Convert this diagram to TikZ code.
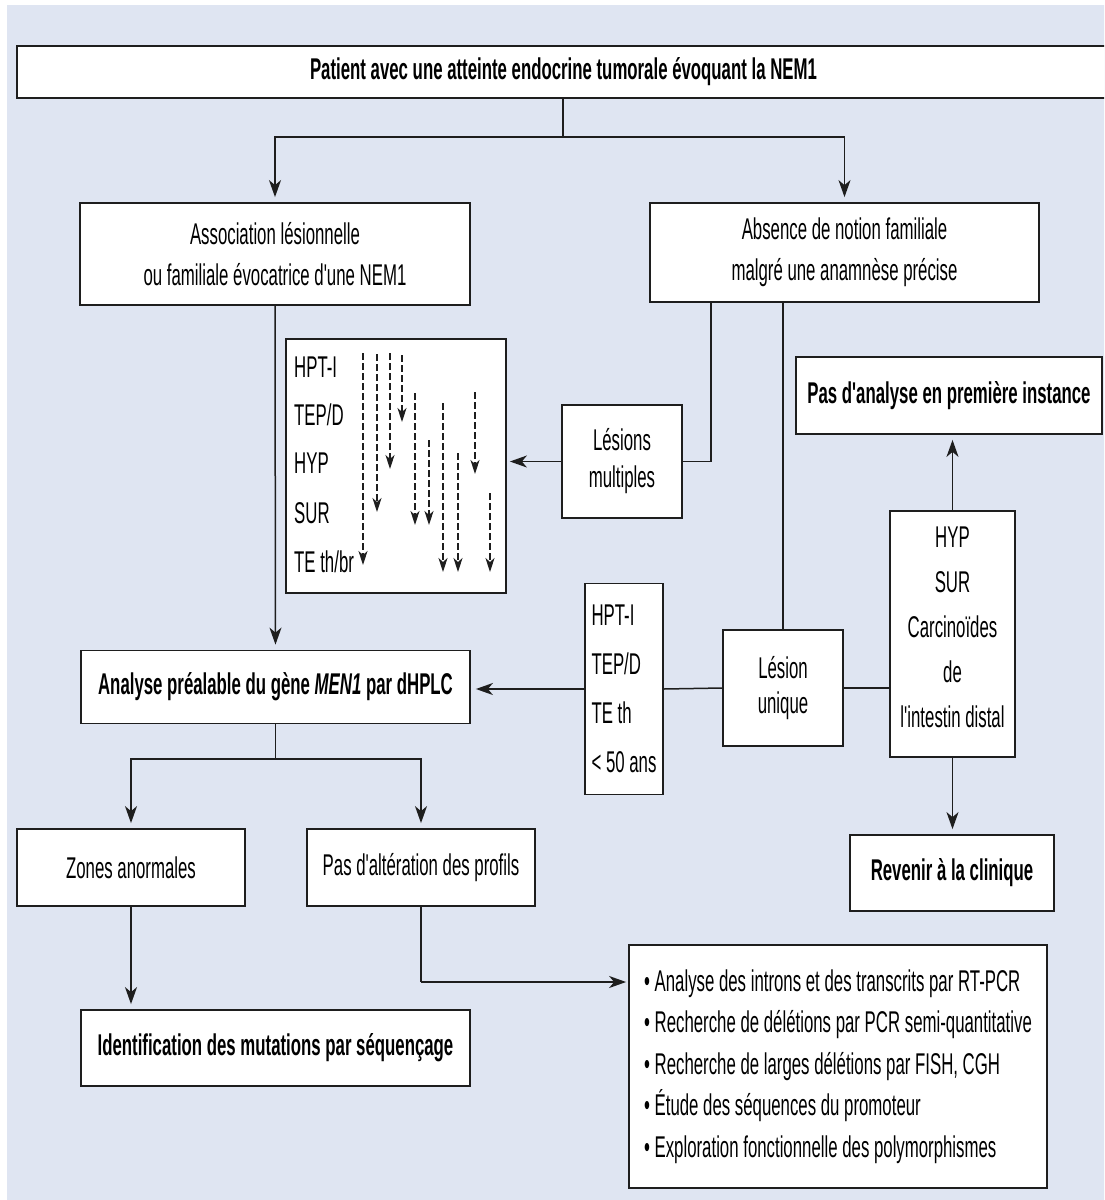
\documentclass[tikz,border=0pt]{standalone}
\usepackage{fontspec}
\setmainfont{Liberation Sans}[FakeStretch=0.56,Ligatures=TeXOff]
\usetikzlibrary{arrows.meta,calc}
\definecolor{bgc}{RGB}{223,229,242}
\definecolor{ln}{RGB}{30,30,30}
\newcommand\myfs[1]{\fontsize{30}{#1}\selectfont}
\begin{document}
\begin{tikzpicture}[x=1pt,y=-1pt,
 box/.style={draw=ln, fill=white, line width=1.8pt, inner sep=0pt, align=center, font=\myfs{41}},
 con/.style={draw=ln, line width=1.5pt},
 arr/.style={con, -{Stealth[length=17pt,width=12pt,inset=5pt]}, shorten >=5pt},
 dar/.style={draw=ln, line width=1.1pt, dash pattern=on 7pt off 3pt, -{Stealth[length=14pt,width=9pt,inset=4pt]}},
 lab/.style={anchor=west, inner sep=0pt, text height=21pt, text depth=0pt, font=\myfs{41}}]
\clip (0,0) rectangle (1104,1200);
\fill[white] (0,0) rectangle (1104,1200);
\fill[bgc] (7,5) rectangle (1110,1205);

% boxes
\node[box, minimum width=1093pt, minimum height=52pt, font=\bfseries\myfs{41}] (top) at (563.5,72) {Patient avec une atteinte endocrine tumorale évoquant la NEM1};
\node[box, minimum width=390pt, minimum height=102pt] (assoc) at (275,254) {Association lésionnelle\\ou familiale évocatrice d'une NEM1};
\node[box, minimum width=389pt, minimum height=99pt] (absence) at (844.5,252.5) {Absence de notion familiale\\malgré une anamnèse précise};
\node[box, minimum width=220pt, minimum height=254pt] (list) at (396,466) {};
\node[lab] (l1) at (294,367) {HPT-I};
\node[lab] (l2) at (294,415) {TEP/D};
\node[lab] (l3) at (294,463) {HYP};
\node[lab] (l4) at (294,513) {SUR};
\node[lab] (l5) at (294,562) {TE th/br};
\draw[dar] (363,353) -- (363,565);
\draw[dar] (377,354) -- (377,512);
\draw[dar] (390,353) -- (390,469);
\draw[dar] (402,355) -- (402,422);
\draw[dar] (415,393) -- (415,525);
\draw[dar] (429,440) -- (429,525);
\draw[dar] (443,403) -- (443,572);
\draw[dar] (458,453) -- (458,572);
\draw[dar] (475,392) -- (475,474);
\draw[dar] (490,493) -- (490,572);

\node[box, minimum width=120pt, minimum height=113pt, font=\myfs{37}] (lesions) at (622,461.5) {Lésions\\multiples};
\node[box, minimum width=306pt, minimum height=77pt, font=\bfseries\myfs{41}] (pasan) at (949,395.5) {Pas d'analyse en première instance};
\node[box, minimum width=125pt, minimum height=246pt, font=\myfs{45}] (hyp) at (952.5,634) {HYP\\SUR\\Carcinoïdes\\de\\l'intestin distal\rule[-14pt]{0pt}{1pt}};
\node[box, minimum width=204pt, minimum height=76pt, font=\bfseries\myfs{41}] (revenir) at (952,873) {Revenir à la clinique};
\node[box, minimum width=120pt, minimum height=116pt, font=\myfs{35}] (unique) at (783,688) {Lésion\\unique};
\node[box, minimum width=78pt, minimum height=211pt, align=left, font=\myfs{49}] (crit) at (624,689) {HPT-I\\TEP/D\\TE th\\< 50 ans};
\node[box, minimum width=389pt, minimum height=73pt, font=\bfseries\myfs{41}] (analyse) at (275.5,687) {Analyse préalable du gène \textit{MEN1} par dHPLC};
\node[box, minimum width=228pt, minimum height=77pt] (zones) at (131,867.5) {Zones anormales};
\node[box, minimum width=228pt, minimum height=77pt] (pasalt) at (421,867.5) {Pas d'altération des profils};
\node[box, minimum width=389pt, minimum height=76pt, font=\bfseries\myfs{41}] (ident) at (275.5,1048) {Identification des mutations par séquençage};
\node[box, minimum width=418pt, minimum height=243pt, align=left, font=\myfs{41.5}] (methods) at (838,1066.5) {• Analyse des introns et des transcrits par RT-PCR\\• Recherche de délétions par PCR semi-quantitative\\• Recherche de larges délétions par FISH, CGH\\• Étude des séquences du promoteur\\• Exploration fonctionnelle des polymorphismes};

% connectors
\coordinate (j1) at (563,137);
\draw[con] (top.south -| j1) -- (j1);
\draw[arr] (j1) -| (assoc.north);
\draw[arr] (j1) -| (absence.north);
\draw[arr] (assoc.south) -- (analyse.north);
\coordinate (c711) at (711,0);
\draw[con] (absence.south -| c711) |- (lesions.east);
\draw[arr, shorten >=3pt] (lesions.west) -- (lesions.west -| list.east);
\draw[con] (absence.south -| unique.north) -- (unique.north);
\draw[con] (unique.east) -- (unique.east -| hyp.west);
\draw[con] (unique.west) -- (crit.east);
\draw[arr] (crit.west) -- (crit.west -| analyse.east);
\draw[arr] (hyp.north) -- (hyp.north |- pasan.south);
\draw[arr] (hyp.south) -- (hyp.south |- revenir.north);
\coordinate (j2) at (275.5,759);
\draw[con] (analyse.south) -- (j2);
\draw[arr] (j2) -| (zones.north);
\draw[arr] (j2) -| (pasalt.north);
\draw[arr] (zones.south) -- (zones.south |- ident.north);
\coordinate (j3) at (421,982);
\draw[con] (pasalt.south) -- (j3);
\draw[arr, shorten >=2pt] (j3) -- (j3 -| methods.west);
\end{tikzpicture}
\end{document}
